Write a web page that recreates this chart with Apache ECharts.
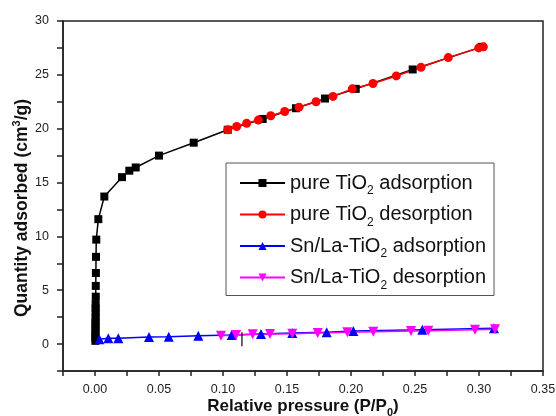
<!DOCTYPE html>
<html>
<head>
<meta charset="utf-8">
<script src="https://cdn.jsdelivr.net/npm/echarts@6/dist/echarts.min.js"></script>
<style>
  html, body { margin: 0; padding: 0; background: #fff; }
  #main { width: 556px; height: 416px; }
</style>
</head>
<body>
<div id="main"></div>
<script>
// pure TiO2 adsorption
var pureAdsX = [0.0003, 0.0003, 0.0003, 0.0004, 0.0004, 0.0004, 0.0004, 0.0005, 0.0005, 0.0005, 0.0005, 0.0006, 0.0006, 0.0007, 0.0008, 0.0010, 0.0026, 0.0073, 0.0211, 0.0268, 0.0318, 0.0500, 0.0771, 0.1037, 0.1310, 0.1570, 0.1797, 0.2037, 0.2482, 0.3021];
var pureAdsY = [0.3, 0.6, 0.9, 1.2, 1.5, 1.8, 2.1, 2.5, 2.9, 3.3, 3.7, 4.4, 5.4, 6.6, 8.1, 9.7, 11.6, 13.7, 15.5, 16.1, 16.4, 17.5, 18.7, 19.9, 20.9, 21.9, 22.8, 23.7, 25.5, 27.6];
// pure TiO2 desorption
var pureDesX = [0.1037, 0.1107, 0.1185, 0.1276, 0.1373, 0.1482, 0.1594, 0.1727, 0.1859, 0.2010, 0.2172, 0.2354, 0.2547, 0.2760, 0.2998, 0.3034];
var pureDesY = [19.9, 20.2, 20.5, 20.8, 21.2, 21.6, 22.0, 22.5, 23.0, 23.7, 24.2, 24.9, 25.7, 26.6, 27.5, 27.6];
// Sn/La-TiO2 adsorption
var snAdsX = [0.0034, 0.0104, 0.0182, 0.0422, 0.0576, 0.0807, 0.1068, 0.1297, 0.1541, 0.1810, 0.2018, 0.2557, 0.3117];
var snAdsY = [0.45, 0.54, 0.54, 0.66, 0.69, 0.78, 0.84, 0.94, 1.03, 1.10, 1.22, 1.34, 1.47];
// Sn/La-TiO2 desorption
var snDesX = [0.0984, 0.1102, 0.1232, 0.1367, 0.1541, 0.1740, 0.1971, 0.2174, 0.2469, 0.2604, 0.2969, 0.3125];
var snDesY = [0.78, 0.84, 0.91, 0.94, 0.97, 1.03, 1.10, 1.15, 1.22, 1.24, 1.34, 1.37];
// small stray tick inside the plot
var strayX = [0.1148, 0.1148];
var strayY = [1.1, -0.2];

var seriesNames = ['pure TiO2 adsorption', 'pure TiO2 desorption', 'Sn/La-TiO2 adsorption', 'Sn/La-TiO2 desorption'];
var legendRich = [
    '{a|pure TiO}{s|2}{a| adsorption}',
    '{a|pure TiO}{s|2}{a| desorption}',
    '{a|Sn/La-TiO}{s|2}{a| adsorption}',
    '{a|Sn/La-TiO}{s|2}{a| desorption}'
];

function pairs(xs, ys) {
    return xs.map(function (x, i) { return [x, ys[i]]; });
}

var FONT = 'Liberation Sans, Arial, sans-serif';
var myChart = echarts.init(document.getElementById('main'), null, { renderer: 'canvas' });

var option = {
    animation: false,
    backgroundColor: '#fff',
    grid: {
        left: 63, right: 13, top: 21, bottom: 45,
        outerBoundsMode: 'none',
        containLabel: false,
        show: true, borderColor: '#222', borderWidth: 1.5
    },
    legend: {
        orient: 'vertical',
        left: 226, top: 163,
        data: seriesNames,
        itemWidth: 45,
        itemHeight: 10,
        itemGap: 3.5,
        padding: [6, 8, 4, 13],
        borderColor: '#555',
        borderWidth: 1,
        formatter: function (name) {
            return legendRich[seriesNames.indexOf(name)];
        },
        textStyle: {
            fontFamily: FONT,
            rich: {
                a: { fontSize: 20, color: '#111', fontFamily: FONT, lineHeight: 28 },
                s: { fontSize: 12, color: '#111', fontFamily: FONT, lineHeight: 12, padding: [16, 0, 0, 0] }
            }
        }
    },
    xAxis: {
        type: 'value',
        min: -0.025, max: 0.35, interval: 0.025,
        name: '{b|Relative pressure (P/P}{s|0}{b|)}',
        nameLocation: 'middle',
        nameGap: 23,
        nameMoveOverlap: false,
        nameTextStyle: {
            rich: {
                b: { fontSize: 17, fontWeight: 'bold', color: '#111', fontFamily: FONT, lineHeight: 24 },
                s: { fontSize: 11, fontWeight: 'bold', color: '#111', fontFamily: FONT, lineHeight: 11, padding: [13, 0, 0, 0] }
            }
        },
        axisLine: { onZero: false, lineStyle: { color: '#222', width: 1.5 } },
        axisTick: { inside: false, length: 5, lineStyle: { color: '#222', width: 1.5 } },
        axisLabel: {
            margin: 12, fontSize: 12.5, color: '#222', fontFamily: FONT,
            formatter: function (v) {
                var k = Math.round(v / 0.025);
                if (k < 0 || k % 2 !== 0) return '';
                return (k * 0.025).toFixed(2);
            }
        },
        splitLine: { show: false }
    },
    yAxis: {
        type: 'value',
        min: -2.5, max: 30, interval: 2.5,
        name: '{b|Quantity adsorbed (cm}{p|3}{b|/g)}',
        nameLocation: 'middle',
        nameGap: 30,
        nameMoveOverlap: false,
        nameTextStyle: {
            padding: [0, 24, 0, 0],
            rich: {
                b: { fontSize: 17.5, fontWeight: 'bold', color: '#111', fontFamily: FONT, lineHeight: 22 },
                p: { fontSize: 11, fontWeight: 'bold', color: '#111', fontFamily: FONT, lineHeight: 11, verticalAlign: 'top' }
            }
        },
        axisLine: { onZero: false, lineStyle: { color: '#222', width: 1.5 } },
        axisTick: { inside: false, length: 6, lineStyle: { color: '#222', width: 1.5 } },
        axisLabel: {
            margin: 14, fontSize: 12.5, color: '#222', fontFamily: FONT,
            formatter: function (v) {
                var k = Math.round(v / 2.5);
                if (k < 0 || k % 2 !== 0) return '';
                return String(k * 2.5);
            }
        },
        splitLine: { show: false }
    },
    series: [
        {
            name: seriesNames[0], type: 'line',
            data: pairs(pureAdsX, pureAdsY),
            symbol: 'rect', symbolSize: 8,
            itemStyle: { color: '#000' },
            lineStyle: { color: '#000', width: 1.5 }
        },
        {
            name: seriesNames[1], type: 'line',
            data: pairs(pureDesX, pureDesY),
            symbol: 'circle', symbolSize: 9,
            itemStyle: { color: '#ff0000' },
            lineStyle: { color: '#ff0000', width: 1.5 }
        },
        {
            name: seriesNames[2], type: 'line',
            data: pairs(snAdsX, snAdsY),
            symbol: 'triangle', symbolSize: 10,
            itemStyle: { color: '#0000ff' },
            lineStyle: { color: '#0000ff', width: 1.5 }
        },
        {
            name: seriesNames[3], type: 'line',
            data: pairs(snDesX, snDesY),
            symbol: 'path://M0,0L2,0L1,1.732Z', symbolSize: 10,
            itemStyle: { color: '#ff00ff' },
            lineStyle: { color: '#ff00ff', width: 1.5 }
        },
        {
            name: 'stray', type: 'line',
            data: pairs(strayX, strayY),
            symbol: 'none', silent: true,
            lineStyle: { color: '#000', width: 1.2 }
        }
    ]
};

myChart.setOption(option);
</script>
</body>
</html>
